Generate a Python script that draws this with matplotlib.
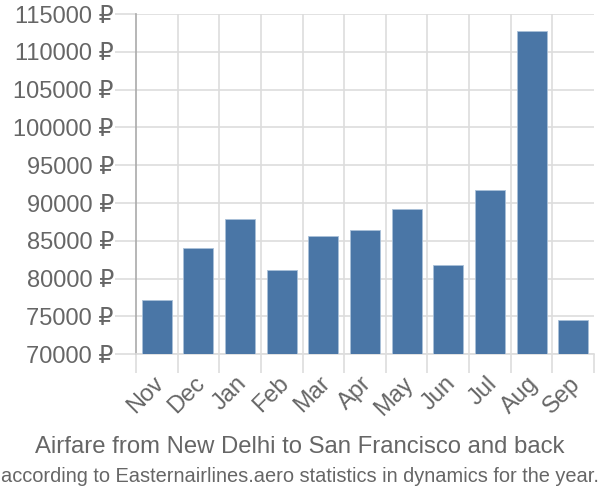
import matplotlib
matplotlib.use('Agg')
import matplotlib.pyplot as plt
import numpy as np

# values
months = ['Nov', 'Dec', 'Jan', 'Feb', 'Mar', 'Apr', 'May', 'Jun', 'Jul', 'Aug', 'Sep']
prices = [77200, 84000, 87900, 81100, 85700, 86500, 89200, 81800, 91700, 112700, 74600]
yticks = list(range(70000, 115001, 5000))

fam = ['Liberation Sans', 'DejaVu Sans']
txt_col = '#666666'
grid_col = '#dddddd'

fig = plt.figure(figsize=(6, 5), dpi=100)
ax = fig.add_axes([136 / 600, 1 - 354.3 / 500, 458 / 600, 340.3 / 500])

x = np.arange(len(months))
ax.bar(x, prices, width=0.72, color='#4a76a6', edgecolor='#a9c0d9', linewidth=0.6, zorder=3)

ax.set_xlim(-0.5, len(months) - 0.5)
ax.set_ylim(70000, 115000)

# grid: horizontal at ticks, vertical at category boundaries
ax.set_yticks(yticks)
ax.set_yticklabels([f'{v} ₽' for v in yticks], family=fam, fontsize=17, color=txt_col)
for v in yticks:
    ax.axhline(v, color=grid_col, lw=1.2, zorder=1)
for b in np.arange(0.5, len(months) - 0.5, 1):
    ax.axvline(b, color=grid_col, lw=1.2, zorder=1)

# boundary ticks below the axis
ax.set_xticks(np.arange(-0.5, len(months) + 0.5, 1))
ax.set_xticklabels([])
ax.tick_params(axis='x', length=14, color=grid_col, width=1.2)
ax.tick_params(axis='y', length=15, color=grid_col, width=1.2, pad=1)

for i, m in enumerate(months):
    ax.annotate(m, xy=(i, 70000), xycoords='data', xytext=(-3, -13), textcoords='offset points',
                rotation=45, ha='right', va='top', rotation_mode='anchor',
                family=fam, fontsize=17, color=txt_col)

for s in ['top', 'right']:
    ax.spines[s].set_visible(False)
ax.spines['left'].set_color('#aaaaaa')
ax.spines['left'].set_linewidth(1.2)
ax.spines['bottom'].set_color(grid_col)
ax.spines['bottom'].set_linewidth(1.2)

fig.text(0.5, 1 - 447 / 500, 'Airfare from New Delhi to San Francisco and back',
         ha='center', va='center', family=fam, fontsize=17.2, color=txt_col)
fig.text(0.5, 1 - 477 / 500, 'according to Easternairlines.aero statistics in dynamics for the year.',
         ha='center', va='center', family=fam, fontsize=14.4, color=txt_col)

fig.savefig('out.png', dpi=100)
